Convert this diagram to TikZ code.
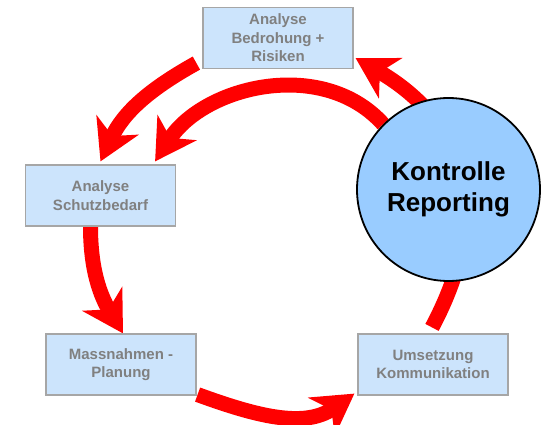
\documentclass[tikz,border=0pt]{standalone}
\usepackage{fontspec}
\setmainfont{Liberation Sans}
\usetikzlibrary{arrows.meta,backgrounds}
\definecolor{boxblue}{RGB}{204,228,252}
\definecolor{ringblue}{RGB}{153,204,255}
\definecolor{boxtext}{RGB}{128,128,128}

\begin{document}
\begin{tikzpicture}[x=1pt, y=1pt,
  box/.style={rectangle, draw=black!35, line width=1.2pt, fill=boxblue,
              minimum width=150pt, minimum height=61pt, align=center, text=boxtext,
              font=\fontsize{15}{18.5}\selectfont\bfseries},
  ring/.style={circle, draw=black, line width=1.8pt, fill=ringblue, minimum size=183pt,
               align=center, font=\fontsize{26}{31}\selectfont\bfseries},
  cyc/.style={draw=red, line width=15pt, -{Stealth[length=40pt, width=46pt, inset=12pt]}}
]
  \useasboundingbox (0,0) rectangle (544,424);

  \node[box] (bedr) at (278,386) {Analyse\\Bedrohung +\\Risiken};
  \node[box] (schutz) at (100.5,228.5) {Analyse\\Schutzbedarf};
  \node[box] (mass) at (121,59.5) {Massnahmen -\\Planung};
  \node[box] (umsetz) at (433,59.5) {Umsetzung\\Kommunikation};
  \node[ring] (kontr) at (448.5,234.5) {Kontrolle\\Reporting};

  % cycle arrows, kept behind the circle
  \begin{scope}[on background layer]
    \draw[cyc] ([shift={(-6,6)}]bedr.south west) to[out=209, in=65] ([yshift=3]schutz.north);
    \draw[cyc] (kontr.135) to[out=132, in=57] ([shift={(-21,3)}]schutz.north east);
    \draw[cyc] ([xshift=-10]schutz.south) to[out=-90, in=121] ([xshift=2]mass.north);
    \draw[cyc] ([shift={(1,1)}]mass.south east) to[out=-20, in=-145] ([shift={(-3,2)}]umsetz.south west);
    \draw[cyc] ([shift={(-1,6)}]umsetz.north) .. controls +(62:150) and +(-30:110) .. ([shift={(2,11)}]bedr.south east);
  \end{scope}
\end{tikzpicture}
\end{document}
